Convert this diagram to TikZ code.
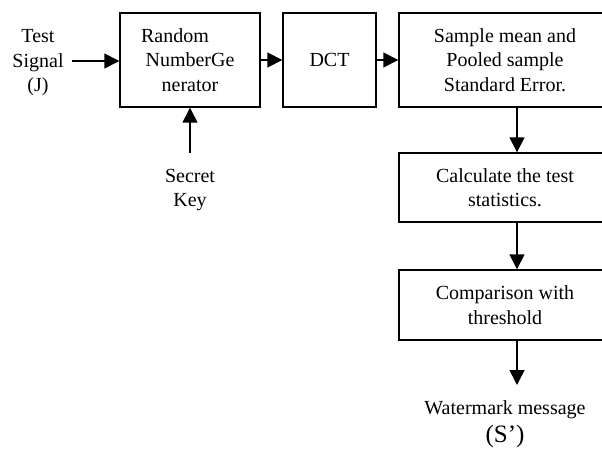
\documentclass[tikz,border=0pt]{standalone}
\usepackage{fontspec}
\setmainfont{Liberation Serif}
\usetikzlibrary{arrows.meta}
\begin{document}
\begin{tikzpicture}[x=1pt,y=-1pt,
  box/.style={draw,line width=1.4pt,inner sep=0pt,align=center,font=\fontsize{20}{24.5}\selectfont},
  txt/.style={inner sep=0pt,align=center,font=\fontsize{20}{24.5}\selectfont},
  arr/.style={line width=1.5pt,-{Triangle[length=15pt,width=15pt]}}]
\clip (0,0) rectangle (602,450);
\node[box,minimum width=140pt,minimum height=94pt] (rng) at (190,60) {Random\kern30pt\\NumberGe\\nerator};
\node[box,minimum width=93pt,minimum height=94pt] (dct) at (329.5,60) {\raisebox{-7pt}{DCT}};
\node[box,minimum width=212pt,minimum height=94pt] (smp) at (505,60) {Sample mean and\\Pooled sample\\Standard Error.};
\node[box,minimum width=212pt,minimum height=69pt] (calc) at (505,187.5) {Calculate the test\\statistics.};
\node[box,minimum width=212pt,minimum height=70pt] (cmp) at (505,305) {Comparison with\\threshold};
\node[txt] (sig) at (38,63) {Test\\Signal\\(J)};
\node[txt] (key) at (190,190) {Secret\\Key};
\node[txt] (wm) at (505,410) {Watermark message};
\node[txt,font=\fontsize{25}{30}\selectfont] (wms) at (505,436) {(S’)};
\coordinate (sigE) at (72,61);
\coordinate (keyN) at (190,153);
\coordinate (wmN) at (517,385);
\draw[arr] (sigE) -- (sigE -| rng.west);
\draw[arr] (rng.east) -- (dct.west);
\draw[arr] (dct.east) -- (smp.west);
\draw[arr] (keyN) -- (rng.south);
\draw[arr] ([xshift=12pt]smp.south) -- ([xshift=12pt]calc.north);
\draw[arr] ([xshift=12pt]calc.south) -- ([xshift=12pt]cmp.north);
\draw[arr] ([xshift=12pt]cmp.south) -- (wmN);
\end{tikzpicture}
\end{document}
